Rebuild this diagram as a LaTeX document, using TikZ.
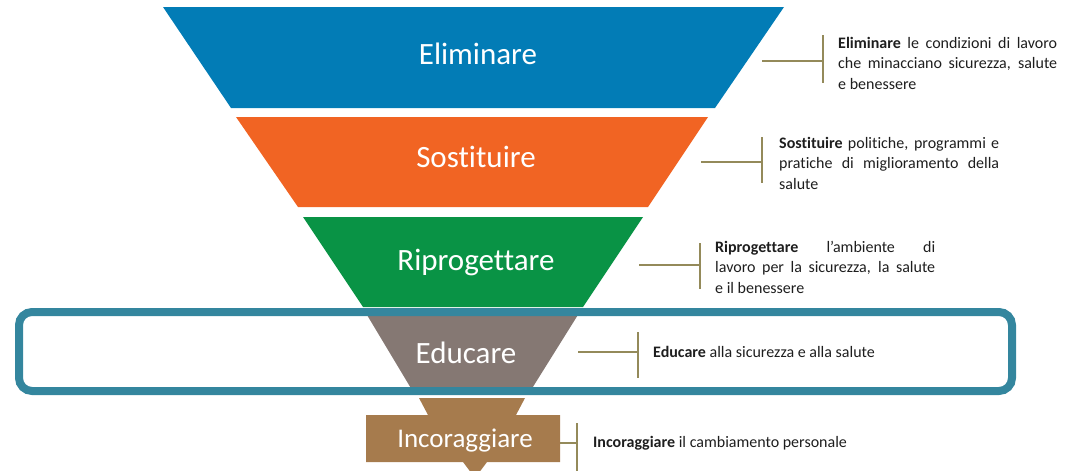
\documentclass[tikz,border=0pt]{standalone}
\usepackage{fontspec}
\setmainfont{Carlito}[Ligatures={NoCommon,NoRequired,NoContextual}]
\definecolor{cblue}{RGB}{2,124,182}
\definecolor{corange}{RGB}{241,100,35}
\definecolor{cgreen}{RGB}{9,147,69}
\definecolor{cgray}{RGB}{133,120,115}
\definecolor{cbrown}{RGB}{166,123,77}
\definecolor{cteal}{RGB}{52,134,158}
\definecolor{colive}{RGB}{148,138,90}
\definecolor{cdesc}{RGB}{30,30,30}
\newcommand\desctext[2]{\parbox[t]{#1}{\fontsize{16}{20.5}\selectfont #2}}
\begin{document}
\begin{tikzpicture}[x=1pt,y=-1pt]
\tikzset{
  lbl/.style={text=white, font=\fontsize{31}{31}\selectfont, inner sep=0pt, anchor=base},
  brk/.style={draw=colive, line width=2.8pt},
  desc/.style={anchor=base west, inner sep=0pt, text=cdesc, font=\fontsize{16}{20.5}\selectfont},
  hlbox/.style={draw=cteal, line width=8pt, rounded corners=13pt}
}
\useasboundingbox (0,0) rectangle (1069,471);
% funnel layers
\fill[cblue] (163,7) -- (784,7) -- (715,108) -- (231,108) -- cycle;
\fill[corange] (236,117) -- (708,117) -- (648,207) -- (298,207) -- cycle;
\fill[cgreen] (303,217) -- (643,217) -- (583,307) -- (363,307) -- cycle;
\fill[cgray] (364,310) -- (581,310) -- (531,390) -- (412,390) -- cycle;
\fill[cbrown] (419,398) -- (525,398) -- (516,415) -- (560,415) -- (560,462) -- (487,462) -- (475,478) -- (463,462) -- (366,462) -- (366,415) -- (428,415) -- cycle;
% highlight box
\draw[hlbox] (19,312) rectangle (1012,391);
% labels
\node[lbl] (l1) at (478,64) {Eliminare};
\node[lbl] (l2) at (476,167) {Sostituire};
\node[lbl] (l3) at (476,270) {Riprogettare};
\node[lbl] (l4) at (466,363) {Educare};
\node[lbl, font=\fontsize{27}{27}\selectfont] (l5) at (465,447) {Incoraggiare};
% brackets
\coordinate (a1) at (762,61); \coordinate (j1) at (823,61);
\coordinate (t1) at (823,35); \coordinate (u1) at (823,83);
\coordinate (a2) at (701,162); \coordinate (j2) at (762,162);
\coordinate (t2) at (762,137); \coordinate (u2) at (762,183);
\coordinate (a3) at (639,265); \coordinate (j3) at (700,265);
\coordinate (t3) at (700,243); \coordinate (u3) at (700,289);
\coordinate (a4) at (578,352); \coordinate (j4) at (638,352);
\coordinate (t4) at (638,332); \coordinate (u4) at (638,378);
\coordinate (a5) at (560,443); \coordinate (j5) at (577,443);
\coordinate (t5) at (577,423); \coordinate (u5) at (577,475);
\foreach \i in {1,...,5}{
  \draw[brk] (a\i) -- (j\i);
  \draw[brk] (t\i) -- (u\i);
}
% descriptions
\node[desc] (d1) at (838,48) {\desctext{219pt}{\textbf{Eliminare} le condizioni di lavoro\linebreak che minacciano sicurezza, salute\linebreak e benessere}};
\node[desc] (d2) at (779,148) {\desctext{220pt}{\textbf{Sostituire} politiche, programmi e\linebreak pratiche di miglioramento della\linebreak salute}};
\node[desc] (d3) at (715,252) {\desctext{220pt}{\textbf{Riprogettare} l’ambiente di\linebreak lavoro per la sicurezza, la salute\linebreak e il benessere}};
\node[desc] (d4) at (653,357) {\textbf{Educare} alla sicurezza e alla salute};
\node[desc] (d5) at (593,447) {\textbf{Incoraggiare} il cambiamento personale};
\end{tikzpicture}
\end{document}
